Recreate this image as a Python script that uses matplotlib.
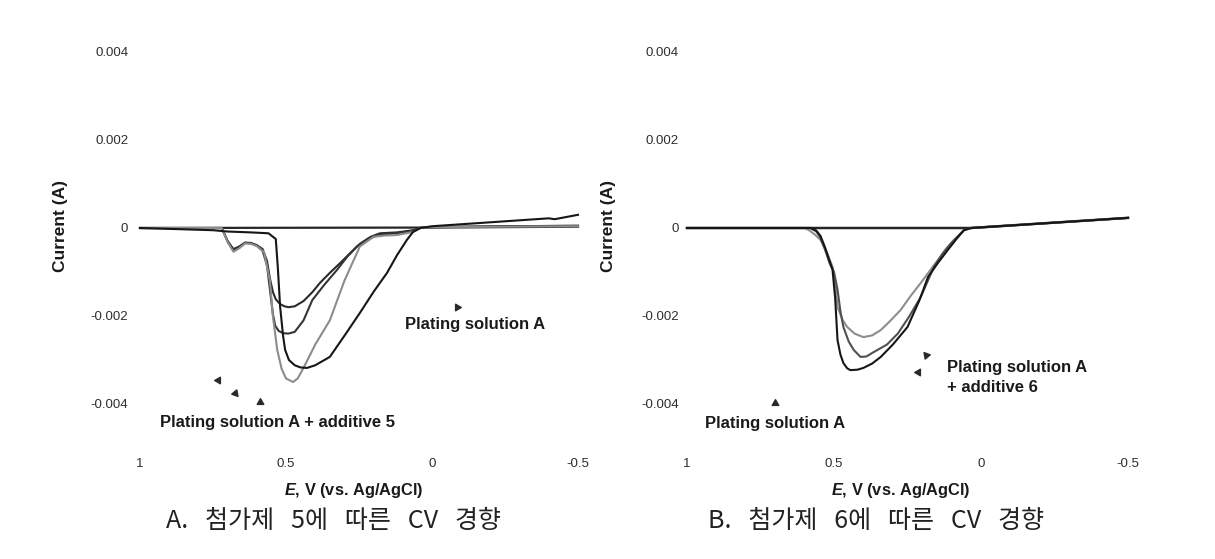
import matplotlib.pyplot as plt

plt.rcParams['font.family'] = ['Liberation Sans', 'Noto Sans CJK KR', 'DejaVu Sans']
plt.rcParams['mathtext.fontset'] = 'custom'
plt.rcParams['mathtext.bfit'] = 'Liberation Sans:italic:bold'
plt.rcParams['mathtext.it'] = 'Liberation Sans:italic'
plt.rcParams['mathtext.rm'] = 'Liberation Sans'

# ---- data (E in V, current in mA) ----
# panel A: additive 5
a1_e = [1.0, 0.72, 0.70, 0.68, 0.66, 0.64, 0.62, 0.60, 0.58, 0.565, 0.555, 0.545, 0.535, 0.52, 0.505, 0.492,
        0.47, 0.44, 0.41, 0.384, 0.35, 0.315, 0.28, 0.247, 0.21, 0.178, 0.12, 0.065, 0.04, 0.0, -0.25, -0.5]
a1_i = [0.0, 0.0, -0.30, -0.48, -0.42, -0.33, -0.34, -0.39, -0.48, -0.75, -1.15, -1.45, -1.62, -1.73, -1.78, -1.80,
        -1.78, -1.66, -1.46, -1.25, -1.02, -0.80, -0.57, -0.36, -0.20, -0.12, -0.10, -0.05, 0.0, 0.02, 0.04, 0.05]

a2_e = [1.0, 0.72, 0.70, 0.68, 0.66, 0.64, 0.62, 0.60, 0.58, 0.565, 0.555, 0.545, 0.537, 0.525, 0.51, 0.492,
        0.47, 0.44, 0.41, 0.37, 0.325, 0.29, 0.257, 0.22, 0.178, 0.12, 0.065, 0.04, 0.0, -0.25, -0.5]
a2_i = [0.0, 0.0, -0.30, -0.50, -0.44, -0.34, -0.35, -0.40, -0.52, -0.85, -1.40, -1.95, -2.22, -2.34, -2.39, -2.40,
        -2.36, -2.10, -1.64, -1.30, -0.95, -0.65, -0.42, -0.25, -0.15, -0.12, -0.06, 0.0, 0.02, 0.04, 0.05]

a3_e = [1.0, 0.75, 0.70, 0.62, 0.56, 0.535, 0.528, 0.52, 0.51, 0.503, 0.49, 0.47, 0.45, 0.428,
        0.40, 0.35, 0.30, 0.247, 0.20, 0.154, 0.12, 0.086, 0.065, 0.04, 0.0, -0.2, -0.40, -0.42, -0.5]
a3_i = [0.0, -0.05, -0.08, -0.10, -0.12, -0.25, -0.90, -1.80, -2.45, -2.77, -3.00, -3.12, -3.17, -3.18,
        -3.12, -2.93, -2.45, -1.93, -1.45, -1.02, -0.62, -0.27, -0.09, 0.0, 0.04, 0.13, 0.22, 0.20, 0.30]

a4_e = [1.0, 0.72, 0.70, 0.68, 0.66, 0.64, 0.62, 0.60, 0.575, 0.555, 0.545, 0.53, 0.515, 0.50, 0.476,
        0.46, 0.44, 0.40, 0.35, 0.30, 0.247, 0.20, 0.16, 0.12, 0.065, 0.04, 0.0, -0.25, -0.5]
a4_i = [0.0, 0.0, -0.32, -0.54, -0.46, -0.35, -0.36, -0.41, -0.55, -1.20, -2.00, -2.77, -3.20, -3.42, -3.50,
        -3.42, -3.18, -2.65, -2.10, -1.20, -0.42, -0.20, -0.17, -0.16, -0.09, 0.0, 0.02, 0.03, 0.04]

a_return_e = [-0.5, 0.0, 1.0]
a_return_i = [0.03, 0.01, 0.0]

# panel B: additive 6
b1_e = [1.0, 0.60, 0.585, 0.565, 0.546, 0.525, 0.505, 0.495, 0.488, 0.47, 0.455, 0.43, 0.40,
        0.37, 0.341, 0.31, 0.273, 0.24, 0.205, 0.175, 0.147, 0.12, 0.092, 0.058, 0.034, -0.2, -0.5]
b1_i = [0.0, 0.0, -0.05, -0.15, -0.27, -0.55, -0.88, -1.30, -1.80, -2.10, -2.25, -2.40, -2.48,
        -2.44, -2.32, -2.12, -1.86, -1.55, -1.25, -0.98, -0.73, -0.48, -0.27, -0.05, 0.0, 0.10, 0.23]

b2_e = [1.0, 0.58, 0.56, 0.546, 0.53, 0.515, 0.50, 0.488, 0.478, 0.468, 0.45, 0.433, 0.41,
        0.39, 0.365, 0.32, 0.283, 0.245, 0.205, 0.16, 0.13, 0.102, 0.058, 0.034, -0.2, -0.5]
b2_i = [0.0, 0.0, -0.08, -0.22, -0.50, -0.80, -1.00, -1.40, -1.90, -2.25, -2.58, -2.77, -2.93,
        -2.92, -2.82, -2.65, -2.40, -2.02, -1.57, -0.88, -0.58, -0.35, -0.05, 0.0, 0.10, 0.23]

b3_e = [1.0, 0.58, 0.56, 0.546, 0.53, 0.515, 0.505, 0.496, 0.488, 0.478, 0.468, 0.455, 0.444,
        0.42, 0.40, 0.37, 0.341, 0.30, 0.25, 0.21, 0.18, 0.145, 0.113, 0.08, 0.058, 0.034, -0.2, -0.5]
b3_i = [0.0, 0.0, -0.06, -0.18, -0.45, -0.75, -0.95, -1.60, -2.55, -2.88, -3.07, -3.19, -3.23,
        -3.22, -3.18, -3.08, -2.93, -2.65, -2.25, -1.65, -1.11, -0.78, -0.50, -0.22, -0.05, 0.0, 0.10, 0.23]

b_return_e = [-0.5, 0.034, 1.0]
b_return_i = [0.23, 0.0, 0.0]

curve_colors_a = ['#2b2b2b', '#353535', '#161616', '#8c8c8c']
curve_colors_b = ['#8e8e8e', '#505050', '#161616']

x_ticks = [1, 0.5, 0, -0.5]
x_tick_labels = ['1', '0.5', '0', '-0.5']
y_ticks = [0.004, 0.002, 0, -0.002, -0.004]
y_tick_labels = ['0.004', '0.002', '0', '-0.002', '-0.004']

# arrow heads (E, mA, angle of the triangle)
a_arrows = [(0.733, -3.45, -30), (0.675, -3.75, -20), (0.589, -3.95, 0), (-0.086, -1.80, -90)]
b_arrows = [(0.70, -3.98, 0), (0.215, -3.27, 90), (0.188, -2.89, 40)]

label_kw = dict(fontsize=12, fontweight='bold', color='#1a1a1a', va='center')


def ma(vals):
    return [v * 1e-3 for v in vals]


def setup_axes(ax, ypad):
    ax.set_xlim(1.0, -0.5)
    ax.set_ylim(-0.005, 0.005)
    for s in ax.spines.values():
        s.set_visible(False)
    ax.set_xticks(x_ticks)
    ax.set_xticklabels(x_tick_labels)
    ax.set_yticks(y_ticks)
    ax.set_yticklabels(y_tick_labels)
    ax.tick_params(axis='x', length=0, pad=7, labelsize=9.5, labelcolor='#2e2e2e')
    ax.tick_params(axis='y', length=0, pad=ypad, labelsize=9.5, labelcolor='#2e2e2e')
    ax.patch.set_alpha(0)


def draw_arrows(ax, arrows):
    for e, i, ang in arrows:
        ax.scatter([e], [i * 1e-3], marker=(3, 0, ang), s=30, color='#2a2a2a', zorder=5, clip_on=False)


fig = plt.figure(figsize=(12.15, 5.59), dpi=100)
ax_a = fig.add_axes([140 / 1215, 111 / 559, 438 / 1215, 440 / 559])
ax_b = fig.add_axes([687 / 1215, 111 / 559, 441 / 1215, 440 / 559])

# panel A
setup_axes(ax_a, 8.5)
ax_a.plot(a_return_e, ma(a_return_i), color='#262626', lw=1.6, clip_on=False)
for (e, i), c in zip([(a1_e, a1_i), (a2_e, a2_i), (a4_e, a4_i), (a3_e, a3_i)],
                     [curve_colors_a[0], curve_colors_a[1], curve_colors_a[3], curve_colors_a[2]]):
    ax_a.plot(e, ma(i), color=c, lw=1.5, clip_on=False)
draw_arrows(ax_a, a_arrows)
ax_a.text(0.092, -0.0022, 'Plating solution A', **label_kw)
ax_a.text(0.93, -0.00443, 'Plating solution A + additive 5', **label_kw)

# panel B
setup_axes(ax_b, 6)
ax_b.plot(b_return_e, ma(b_return_i), color='#262626', lw=1.8, clip_on=False)
for (e, i), c in zip([(b1_e, b1_i), (b2_e, b2_i), (b3_e, b3_i)], curve_colors_b):
    ax_b.plot(e, ma(i), color=c, lw=1.5, clip_on=False)
draw_arrows(ax_b, b_arrows)
ax_b.text(0.116, -0.00316, 'Plating solution A', **label_kw)
ax_b.text(0.116, -0.00362, '+ additive 6', **label_kw)
ax_b.text(0.94, -0.00445, 'Plating solution A', **label_kw)

# axis labels and captions placed in figure pixels
for x in (60, 608):
    fig.text(x / 1215, 1 - 226 / 559, 'Current (A)', rotation=90, fontsize=12.5, fontweight='bold',
             color='#1a1a1a', ha='center', va='center')
for x in (354, 901):
    fig.text(x / 1215, 1 - 491 / 559, r'$\bfit{E}$, V (vs. Ag/AgCl)', fontsize=11.8, fontweight='bold',
             color='#1a1a1a', ha='center', va='center')
fig.text(333 / 1215, 1 - 521 / 559, 'A.   첨가제   5에   따른   CV   경향', fontsize=18, color='#222222',
         ha='center', va='center', family=['Noto Sans CJK KR', 'DejaVu Sans'])
fig.text(876 / 1215, 1 - 521 / 559, 'B.   첨가제   6에   따른   CV   경향', fontsize=18, color='#222222',
         ha='center', va='center', family=['Noto Sans CJK KR', 'DejaVu Sans'])

fig.savefig('out.png', dpi=100)
